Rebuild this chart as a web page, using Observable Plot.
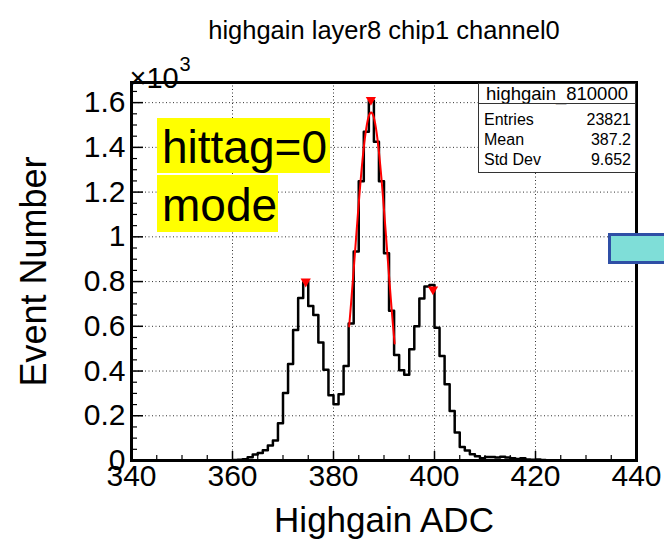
<!DOCTYPE html>
<html>
<head>
<meta charset="utf-8">
<script src="https://cdn.jsdelivr.net/npm/d3@7"></script>
<script src="https://cdn.jsdelivr.net/npm/@observablehq/plot@0.6"></script>
<style>
  html, body { margin: 0; padding: 0; background: #fff; }
  #wrap { position: relative; width: 664px; height: 554px; overflow: hidden;
          font-family: "Liberation Sans", Arial, Helvetica, sans-serif; color: #000; }
  #wrap svg { display: block; }
  .stats { position: absolute; left: 478px; top: 83px; width: 158px; height: 90px;
           border: 1px solid #333; background: #fff; box-sizing: border-box; }
  .stats .ttl { position: absolute; left: 0; right: 0; top: 0; height: 19px; line-height: 19px;
                text-align: center; font-size: 18.5px; }
  .stats .sep { position: absolute; left: 0; right: 0; top: 19px; border-top: 1px solid #333; }
  .stats .row { position: absolute; left: 5px; right: 4px; height: 19px; line-height: 19px; font-size: 16px; }
  .stats .row span.v { position: absolute; right: 0; }
  .ybox { position: absolute; background: #ffff00; font-size: 46px; color: #000; box-sizing: border-box;
          padding-left: 5px; white-space: nowrap; }
  .cyan { position: absolute; left: 608px; top: 233px; width: 70px; height: 31px;
          background: #7fded8; border: 3px solid #2f4fa6; box-sizing: border-box; }
</style>
</head>
<body>
<div id="wrap"></div>
<script>
// ---- data ----
const xTicks = [340, 360, 380, 400, 420, 440];
const yTicks = [0, 200, 400, 600, 800, 1000, 1200, 1400, 1600];
const yTickLabels = ["0", "0.2", "0.4", "0.6", "0.8", "1", "1.2", "1.4", "1.6"];
const xGrid = [360, 380, 400, 420];
const yGrid = [200, 400, 600, 800, 1000, 1200, 1400, 1600];

// histogram: bin low edges (width 1 ADC) and counts
const adcBins = [358, 359, 360, 361, 362, 363, 364, 365, 366, 367, 368, 369,
  370, 371, 372, 373, 374, 375, 376, 377, 378, 379,
  380, 381, 382, 383, 384, 385, 386, 387, 388, 389,
  390, 391, 392, 393, 394, 395, 396, 397, 398, 399,
  400, 401, 402, 403, 404, 405, 406, 407, 408, 409,
  410, 411, 412, 413, 414, 415, 416, 417, 418, 419, 420, 421, 422];
const counts = [0, 1, 2, 3, 6, 15, 27, 33, 46, 67, 89, 167,
  302, 431, 584, 726, 796, 691, 651, 528, 406, 292,
  251, 296, 423, 612, 934, 1248, 1470, 1608, 1425, 1248,
  927, 669, 472, 403, 383, 497, 600, 724, 778, 785,
  594, 467, 341, 221, 125, 60, 45, 28, 19, 10,
  16, 16, 13, 17, 13, 10, 7, 10, 4, 3, 5, 2, 0];

// gaussian fit shown in red
const fitConstant = 1556;
const fitMean = 387.45;
const fitSigma = 3.15;
const fitRange = [383.1, 392.1];

// peak markers (red triangles)
const peakX = [374.5, 387.4, 399.7];
const peakY = [800, 1612, 765];

// stats box
const statsTitle = "highgain_810000";
const statsLabels = ["Entries", "Mean", "Std Dev"];
const statsValues = ["23821", "387.2", "9.652"];

const titleText = "highgain layer8 chip1 channel0";
const xLabel = "Highgain ADC";
const yLabel = "Event Number";
const annotLines = ["hittag=0", "mode"];

// ---- build ----
const stepData = adcBins.map((b, i) => ({x: b, y: counts[i]}));
stepData.push({x: adcBins[adcBins.length - 1] + 1, y: counts[counts.length - 1]});
const fitData = d3.range(fitRange[0], fitRange[1] + 1e-9, 0.05).map(x => ({
  x, y: fitConstant * Math.exp(-0.5 * ((x - fitMean) / fitSigma) ** 2)
}));
const peaks = peakX.map((x, i) => ({x, y: peakY[i]}));
const xMinor = d3.range(340, 441, 5).filter(v => !xTicks.includes(v));
const yMinor = d3.range(0, 1690, 50).filter(v => !yTicks.includes(v));

const W = 664, H = 554, mL = 131, mR = 28, mT = 82, mB = 94;
const fw = W - mL - mR, fh = H - mT - mB;
const font = '"Liberation Sans", Arial, Helvetica, sans-serif';

const chart = Plot.plot({
  width: W, height: H,
  marginLeft: mL, marginRight: mR, marginTop: mT, marginBottom: mB,
  style: {fontFamily: font, fontSize: "30px", color: "black", background: "white", overflow: "visible"},
  x: {domain: [340, 440], ticks: xTicks, tickSize: 0, tickPadding: 4, label: null, tickFormat: d => String(d)},
  y: {domain: [0, 1690], ticks: yTicks, tickSize: 0, tickPadding: 6, label: null,
      tickFormat: d => yTickLabels[yTicks.indexOf(d)]},
  marks: [
    Plot.ruleX(xGrid, {stroke: "#333", strokeWidth: 1, strokeDasharray: "1,2.5"}),
    Plot.ruleY(yGrid, {stroke: "#333", strokeWidth: 1, strokeDasharray: "1,2.5"}),
    Plot.tickX(xTicks, {x: d => d, stroke: "black", strokeWidth: 1.5, insetTop: fh - 9}),
    Plot.tickX(xMinor, {x: d => d, stroke: "black", strokeWidth: 1.2, insetTop: fh - 5}),
    Plot.tickY(yTicks, {y: d => d, stroke: "black", strokeWidth: 1.5, insetRight: fw - 12}),
    Plot.tickY(yMinor, {y: d => d, stroke: "black", strokeWidth: 1.2, insetRight: fw - 6}),
    Plot.line(stepData, {x: "x", y: "y", curve: "step-after", stroke: "black", strokeWidth: 2.5}),
    Plot.line(fitData, {x: "x", y: "y", stroke: "#ff0000", strokeWidth: 2}),
    Plot.dot(peaks, {x: "x", y: "y", symbol: "triangle", rotate: 180, r: 3.8, fill: "#ff0000", stroke: "none"}),
    Plot.frame({stroke: "black", strokeWidth: 3}),
    Plot.text([titleText], {frameAnchor: "top", textAnchor: "middle", dx: 0, dy: -62, fontSize: 25.5, fill: "black"}),
    Plot.text(["×10"], {frameAnchor: "top-left", textAnchor: "start", dx: -2, dy: -15, fontSize: 29, fill: "black"}),
    Plot.text(["3"], {frameAnchor: "top-left", textAnchor: "start", dx: 48, dy: -26, fontSize: 20, fill: "black"}),
    Plot.text([xLabel], {frameAnchor: "bottom", textAnchor: "middle", dy: 71, fontSize: 35, fill: "black"}),
    Plot.text([yLabel], {frameAnchor: "left", textAnchor: "middle", dx: -97, rotate: -90, fontSize: 36, fill: "black"})
  ]
});

const wrap = document.getElementById("wrap");
wrap.appendChild(chart);

// stats box
const stats = document.createElement("div");
stats.className = "stats";
let html = `<div class="ttl">${statsTitle}</div><div class="sep"></div>`;
const rowTops = [26, 46, 65.5];
statsLabels.forEach((l, i) => {
  html += `<div class="row" style="top:${rowTops[i]}px"><span>${l}</span><span class="v">${statsValues[i]}</span></div>`;
});
stats.innerHTML = html;
wrap.appendChild(stats);

// yellow annotation boxes
const yb = [
  {left: 157, top: 118, width: 173, height: 55},
  {left: 157, top: 175, width: 121, height: 57}
];
annotLines.forEach((t, i) => {
  const d = document.createElement("div");
  d.className = "ybox";
  const b = yb[i];
  d.style.left = b.left + "px"; d.style.top = b.top + "px";
  d.style.width = b.width + "px"; d.style.height = b.height + "px";
  d.style.lineHeight = (b.height + 4) + "px";
  d.textContent = t;
  wrap.appendChild(d);
});

// cyan shape at right edge
const c = document.createElement("div");
c.className = "cyan";
wrap.appendChild(c);
</script>
</body>
</html>
